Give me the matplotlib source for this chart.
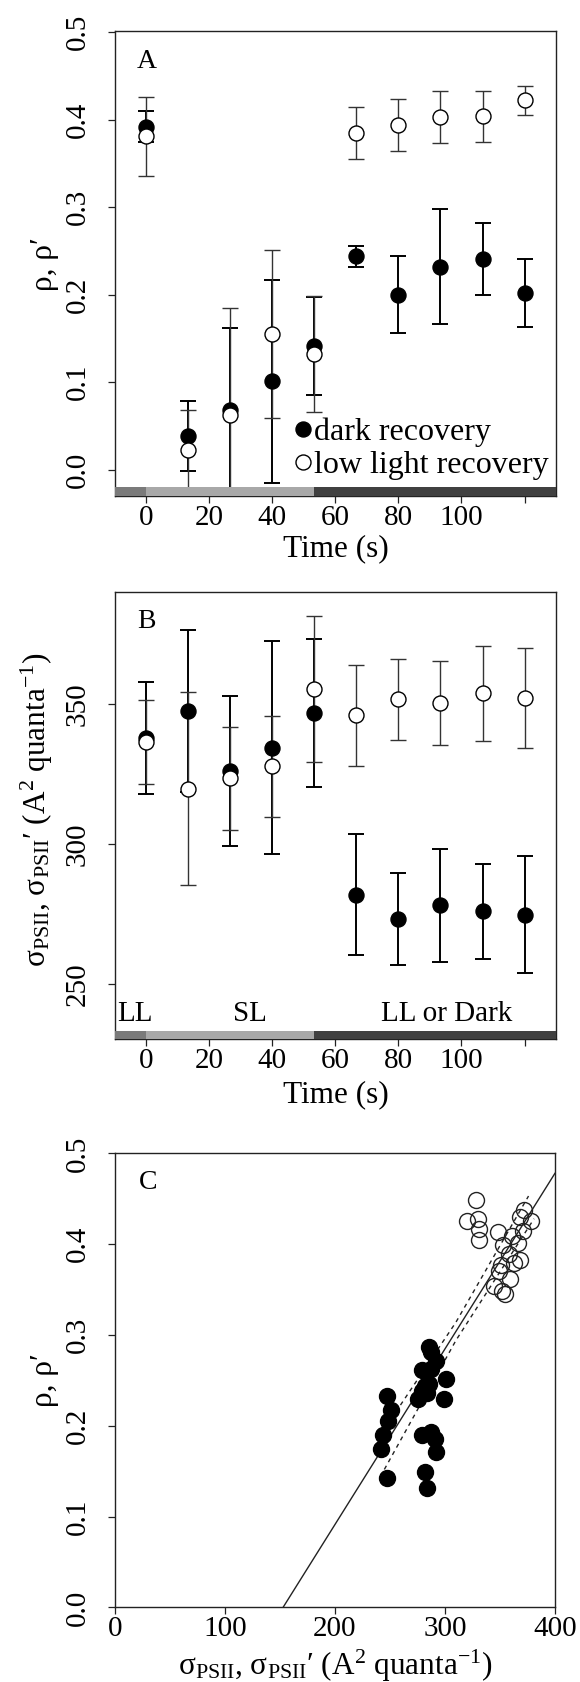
import matplotlib
matplotlib.use("Agg")
import matplotlib.pyplot as plt
from matplotlib.ticker import FormatStrFormatter
import numpy as np

plt.rcParams['font.family'] = ['Liberation Serif', 'DejaVu Serif']
plt.rcParams['mathtext.fontset'] = 'custom'
plt.rcParams['mathtext.rm'] = 'Liberation Serif'
plt.rcParams['mathtext.it'] = 'Liberation Serif:italic'
plt.rcParams['mathtext.default'] = 'rm'

### Daten
time = [0, 13.33, 26.67, 40, 53.33, 66.67, 80, 93.33, 106.67, 120]

# Panel A: rho
rho_dark = [0.392, 0.039, 0.068, 0.101, 0.141, 0.244, 0.200, 0.232, 0.241, 0.202]
rho_dark_err = [0.018, 0.040, 0.094, 0.116, 0.056, 0.012, 0.044, 0.066, 0.041, 0.039]
rho_low = [0.381, 0.022, 0.062, 0.155, 0.132, 0.385, 0.394, 0.403, 0.404, 0.422]
rho_low_err = [0.045, 0.046, 0.123, 0.096, 0.066, 0.030, 0.030, 0.030, 0.029, 0.017]

# Panel B: sigma PSII
sig_dark = [338.0, 347.4, 326.0, 334.3, 346.7, 281.8, 273.2, 278.1, 275.9, 274.8]
sig_dark_err = [20.0, 29.0, 26.8, 38.0, 26.4, 21.6, 16.5, 20.2, 16.9, 21.0]
sig_low = [336.3, 319.8, 323.4, 327.7, 355.4, 345.9, 351.6, 350.5, 353.8, 352.1]
sig_low_err = [15.0, 34.4, 18.4, 18.0, 26.0, 18.0, 14.6, 15.0, 17.0, 18.0]

# Lichtphasen (Balken unten)
phase_start = [-10, 0, 53.33]
phase_end = [0, 53.33, 130]
phase_names = ["LL", "SL", "LL or Dark"]
phase_label_x = [-3.5, 33, 95.2]
phase_colors = ['#7a7a7a', '#a8a8a8', '#404040']

# Panel C: rho vs sigma
c_dark_sig = [247, 251, 248, 244, 242, 247, 276, 279, 286, 287, 292, 282, 286, 284,
              301, 299, 279, 287, 291, 292, 282, 284, 287, 279]
c_dark_rho = [0.233, 0.217, 0.205, 0.190, 0.174, 0.143, 0.230, 0.261, 0.287, 0.281,
              0.271, 0.244, 0.246, 0.236, 0.252, 0.230, 0.190, 0.193, 0.185, 0.171,
              0.149, 0.132, 0.263, 0.238]
c_low_sig = [328.7, 320, 330, 331, 331, 348.6, 352.9, 344.5, 349.6, 352.3, 354.6, 359,
             363, 366.4, 368, 371.4, 372, 378.2, 361.3, 357.9, 368, 351.3]
c_low_rho = [0.449, 0.4255, 0.4275, 0.417, 0.405, 0.413, 0.399, 0.354, 0.3705, 0.348,
             0.345, 0.362, 0.379, 0.401, 0.383, 0.415, 0.438, 0.4255, 0.409, 0.389,
             0.430, 0.377]

# Regressionsgerade und Konfidenzband
fit_x = [152.9, 400]
fit_y = [0.0, 0.478]
ci_up_x = [247, 310, 376]
ci_up_y = [0.200, 0.314, 0.453]
ci_lo_x = [245, 310, 381]
ci_lo_y = [0.152, 0.294, 0.428]

TICK = 21
LAB = 22.5
MS = 10.8

fig = plt.figure(figsize=(5.8, 16.82), dpi=100)
axA = fig.add_axes([0.1978, 0.7049, 0.7609, 0.2765])
axB = fig.add_axes([0.1978, 0.3820, 0.7609, 0.2661])
axC = fig.add_axes([0.1978, 0.0443, 0.7590, 0.2700])


def style(ax):
    for sp in ax.spines.values():
        sp.set_color('#222222')
        sp.set_linewidth(1.0)
    ax.tick_params(direction='out', length=5.3, width=0.9, colors='#222222',
                   labelsize=TICK, labelcolor='black')
    ax.tick_params(axis='x', pad=1)
    ax.tick_params(axis='y', pad=12)
    plt.setp(ax.get_yticklabels(), rotation=90, va='center')


def time_panel(ax, ydark, edark, ylow, elow, ylim, bar_h):
    ax.errorbar(time, ydark, yerr=edark, fmt='none', ecolor='black', elinewidth=1.4,
                capsize=5.5, capthick=1.4, zorder=2)
    ax.errorbar(time, ylow, yerr=elow, fmt='none', ecolor='#333333', elinewidth=1.0,
                capsize=5.5, capthick=1.0, zorder=2)
    ax.plot(time, ydark, 'o', color='black', markersize=MS, zorder=3, label='dark recovery')
    ax.plot(time, ylow, 'o', markerfacecolor='white', markeredgecolor='black',
            markeredgewidth=1.0, markersize=MS, zorder=4, label='low light recovery')
    for s, e, c in zip(phase_start, phase_end, phase_colors):
        ax.fill_between([s, e], ylim[0], ylim[0] + bar_h, color=c, lw=0, zorder=5)
    ax.set_xlim(-10, 130)
    ax.set_ylim(*ylim)
    ax.set_xticks([0, 20, 40, 60, 80, 100, 120])
    ax.set_xticklabels(['0', '20', '40', '60', '80', '100', ''])
    ax.set_xlabel("Time (s)", fontsize=LAB, va='center')


### Panel A
time_panel(axA, rho_dark, rho_dark_err, rho_low, rho_low_err, (-0.0305, 0.501), 0.011)
axA.set_yticks([0, 0.1, 0.2, 0.3, 0.4, 0.5])
axA.yaxis.set_major_formatter(FormatStrFormatter('%.1f'))
axA.set_ylabel("ρ, ρ′", fontsize=LAB, va='center')
axA.yaxis.set_label_coords(-0.159, 0.5)
axA.xaxis.set_label_coords(0.5, -0.113)
axA.text(0, 0.467, "A", fontsize=20, ha='center', va='center')
axA.legend(loc='lower left', bbox_to_anchor=(0.4077, 0.0357), frameon=False,
           fontsize=23, handlelength=0.5, handletextpad=0.1, labelspacing=0.1,
           borderpad=0, borderaxespad=0, numpoints=1)
style(axA)

### Panel B
time_panel(axB, sig_dark, sig_dark_err, sig_low, sig_low_err, (230.2, 390), 3.2)
axB.set_yticks([250, 300, 350])
axB.set_ylabel(r"σ$_{\mathrm{PSII}}$, σ$_{\mathrm{PSII}}$′ (A$^{2}$ quanta$^{-1}$)",
               fontsize=LAB, va='center')
axB.yaxis.set_label_coords(-0.176, 0.512)
axB.xaxis.set_label_coords(0.5, -0.124)
axB.text(0, 379.5, "B", fontsize=20, ha='center', va='center')
for name, x in zip(phase_names, phase_label_x):
    axB.text(x, 239.4, name, fontsize=21, ha='center', va='center')
style(axB)

### Panel C
axC.plot(fit_x, fit_y, '-', color='#222222', lw=1.0, zorder=2)
axC.plot(ci_up_x, ci_up_y, color='#222222', lw=1.0, linestyle=(0, (3, 3)), zorder=2)
axC.plot(ci_lo_x, ci_lo_y, color='#222222', lw=1.0, linestyle=(0, (3, 3)), zorder=2)
axC.plot(c_dark_sig, c_dark_rho, 'o', color='black', markersize=11.5, zorder=3)
axC.plot(c_low_sig, c_low_rho, 'o', markerfacecolor='none', markeredgecolor='#222222',
         markeredgewidth=1.0, markersize=11.5, zorder=4)
axC.set_xlim(0, 400)
axC.set_ylim(0, 0.5)
axC.set_xticks([0, 100, 200, 300, 400])
axC.set_yticks([0, 0.1, 0.2, 0.3, 0.4, 0.5])
axC.yaxis.set_major_formatter(FormatStrFormatter('%.1f'))
axC.set_ylabel("ρ, ρ′", fontsize=LAB, va='center')
axC.set_xlabel(r"σ$_{\mathrm{PSII}}$, σ$_{\mathrm{PSII}}$′ (A$^{2}$ quanta$^{-1}$)",
               fontsize=LAB, va='center')
axC.yaxis.set_label_coords(-0.16, 0.5)
axC.xaxis.set_label_coords(0.5, -0.128)
axC.text(30.3, 0.468, "C", fontsize=20, ha='center', va='center')
style(axC)

plt.savefig("out.png", dpi=100)
plt.close()
